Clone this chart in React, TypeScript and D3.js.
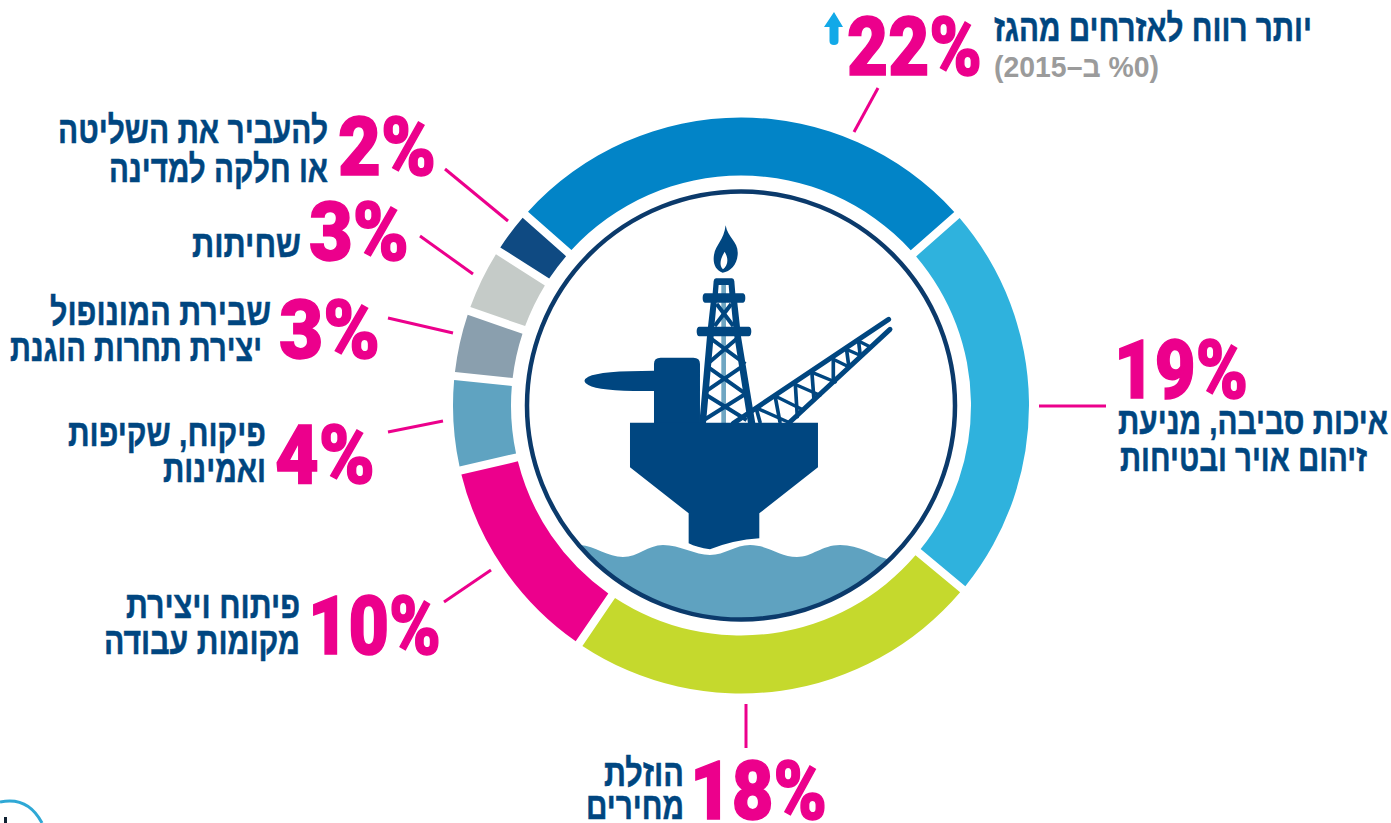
import * as d3 from "d3";

// labels clockwise from the top slice
const pctLabels = ["22%", "19%", "18%", "10%", "4%", "3%", "3%", "2%"];
// the artwork's slices are not quite proportional, so sweeps are read off the picture (degrees)
const sweepDeg = [97, 81, 84.5, 42.7, 18.9, 13.3, 13.3, 9];
const sliceColors = ["#0284c7", "#2fb2dd", "#c5d92d", "#ec008c", "#5fa3c1", "#8a9fae", "#c5cbc8", "#0f4a82"];
const textLines = [
  ["יותר רווח לאזרחים מהגז"],
  ["איכות סביבה, מניעת", "זיהום אויר ובטיחות"],
  ["הוזלת", "מחירים"],
  ["פיתוח ויצירת", "מקומות עבודה"],
  ["פיקוח, שקיפות", "ואמינות"],
  ["שבירת המונופול", "יצירת תחרות הוגנת"],
  ["שחיתות"],
  ["להעביר את השליטה", "או חלקה למדינה"],
];
const subNote = "(2015–ב %0)";

// label layout, same order as above
const pctBox = [
  { x: 847, y: 75, w: 135 },
  { x: 1114, y: 398, w: 134 },
  { x: 690, y: 819, w: 137 },
  { x: 308, y: 654, w: 133 },
  { x: 275, y: 483, w: 100 },
  { x: 279, y: 358, w: 101 },
  { x: 309, y: 260, w: 100 },
  { x: 338, y: 175, w: 98 },
];
const textBox = [
  [{ r: 1312, y: 41, w: 318 }],
  [{ r: 1388, y: 434, w: 270 }, { r: 1367, y: 471, w: 247 }],
  [{ r: 684, y: 786, w: 80 }, { r: 684, y: 819, w: 98 }],
  [{ r: 300, y: 618, w: 174 }, { r: 300, y: 654, w: 196 }],
  [{ r: 266, y: 446, w: 198 }, { r: 266, y: 482, w: 103 }],
  [{ r: 271, y: 325, w: 221 }, { r: 262, y: 361, w: 252 }],
  [{ r: 301, y: 257, w: 109 }],
  [{ r: 328, y: 143, w: 270 }, { r: 328, y: 182, w: 219 }],
];
const leaders = [
  [878, 88, 854, 132],
  [1039, 406, 1106, 406],
  [746, 704, 746, 748],
  [491, 570, 444, 602],
  [443, 421, 388, 432],
  [453, 333, 388, 318],
  [473, 274, 420, 236],
  [508, 221, 445, 169],
];

const W = 1391;
const H = 823;
const cx = 741;
const cy = 405.5;
const outerR = 288;
const innerR = 230;
const ringR = 214;

const pieGen = d3
  .pie<number>()
  .sort(null)
  .startAngle((-48.5 * Math.PI) / 180)
  .endAngle((311.5 * Math.PI) / 180);
const arcGen = d3
  .arc<d3.PieArcDatum<number>>()
  .innerRadius(innerR)
  .outerRadius(outerR)
  .padAngle(0.022);

const navy = "#004680";
const pink = "#ec008c";
const hebrew = "'Liberation Sans', 'DejaVu Sans', sans-serif";

const Rig = () => (
  <g transform="translate(560,210) scale(0.3333)" fill={navy}>
    {/* flame */}
    <path d="M497 46 C503 85 537 95 533 135 C531 165 510 185 488 188 C466 180 458 160 462 135 C467 105 492 90 497 46 Z M494 125 C482 145 476 165 489 178 C505 165 506 145 494 125 Z" fillRule="evenodd" />
    {/* derrick */}
    <rect x="484" y="225" width="14" height="415" fill="#6fa6c2" />
    <path d="M468 205 H516 Q522 205 523 213 L526 250 H548 Q556 250 556 264 Q556 278 548 278 H532 L540 350 H566 Q574 350 574 364 Q574 379 566 379 H543 L586 640 H564 L523 379 H461 L438 640 H418 L441 379 H418 Q410 379 410 364 Q410 350 418 350 H444 L452 278 H436 Q428 278 428 264 Q428 250 436 250 H458 L461 213 Q462 205 468 205 Z M476 225 L474 250 H508 L506 225 Z M470 278 L463 350 H520 L513 278 Z" fillRule="evenodd" />
    <g stroke={navy} strokeWidth="12" fill="none">
      <path d="M470 282 L520 348 M514 282 L464 348" />
      <path d="M452 385 L556 462 M532 385 L442 462" />
      <path d="M442 470 L552 548 M546 470 L432 548" />
      <path d="M434 552 L560 630 M556 552 L422 636" />
    </g>
    {/* crane */}
    <g stroke={navy} fill="none" strokeLinecap="round">
      <path d="M520 640 L986 328" strokeWidth="15" />
      <path d="M690 636 L990 358" strokeWidth="15" />
      <path d="M590 600 L600 636 M646 562 L660 636 M706 522 L712 620 M756 490 L762 570 M820 448 L820 510 M860 420 L866 465 M896 395 L900 430" strokeWidth="11" />
      <path d="M594 596 L684 636 M650 560 L730 600 M708 524 L780 556 M758 488 L826 516 M820 448 L866 470 M864 420 L900 436 M900 395 L930 410" strokeWidth="10" />
    </g>
    {/* cabin and helideck */}
    <path d="M282 640 V543 Q120 545 85 525 Q62 512 85 500 Q120 482 282 482 V462 Q282 443 302 443 H400 Q420 443 420 462 V640 Z" />
    {/* hull */}
    <path d="M210 638 H774 V772 L598 910 V985 Q520 990 450 1018 Q410 1012 386 1000 V910 L210 772 Z" />
  </g>
);

const App = () => {
  const slices = pieGen(sweepDeg);
  return (
    <svg
      width={W}
      height={H}
      viewBox={`0 0 ${W} ${H}`}
      style={{ position: "absolute", left: 0, top: 0, background: "#fff" }}
    >
      <defs>
        <clipPath id="inside">
          <circle cx={cx} cy={cy} r={ringR} />
        </clipPath>
      </defs>

      <g transform={`translate(${cx},${cy})`}>
        {slices.map((s, i) => (
          <path key={i} d={arcGen(s) ?? ""} fill={sliceColors[i]} />
        ))}
      </g>

      {/* sea, clipped by the inner circle */}
      <path
        clipPath="url(#inside)"
        fill="#5fa2c0"
        d="M580 545 C595 546 608 557 623 557 C638 557 648 545 663 545 C680 545 695 555 710 555 C725 555 735 545 750 545 C768 545 780 557 797 557 C812 557 822 545 840 545 C860 545 872 555 887 559 L920 640 H560 Z"
      />
      <Rig />
      <circle cx={cx} cy={cy} r={ringR} fill="none" stroke="#0b3a6b" strokeWidth={4.5} />

      {leaders.map((l, i) => (
        <line key={i} x1={l[0]} y1={l[1]} x2={l[2]} y2={l[3]} stroke={pink} strokeWidth={3} />
      ))}

      {pctLabels.map((t, i) => (
        <text
          key={t + i}
          x={pctBox[i].x}
          y={pctBox[i].y}
          fontFamily="Roboto, 'Liberation Sans', sans-serif"
          fontWeight={900}
          fontSize={82}
          fill={pink}
          stroke={pink}
          strokeWidth={1.5}
          textLength={pctBox[i].w}
          lengthAdjust="spacingAndGlyphs"
        >
          {t}
        </text>
      ))}

      {textLines.map((lines, i) =>
        lines.map((line, j) => (
          <text
            key={`${i}-${j}`}
            x={textBox[i][j].r}
            y={textBox[i][j].y}
            fontFamily={hebrew}
            fontWeight={700}
            fontSize={38}
            fill={navy}
            stroke={navy}
            strokeWidth={0.5}
            textLength={textBox[i][j].w}
            lengthAdjust="spacingAndGlyphs"
            direction="rtl"
          >
            {line}
          </text>
        ))
      )}

      <text
        x={994}
        y={77}
        fontFamily={hebrew}
        fontWeight={700}
        fontSize={30}
        fill="#9b9b9b"
        textLength={165}
        lengthAdjust="spacingAndGlyphs"
        direction="ltr"
        style={{ unicodeBidi: "bidi-override" }}
      >
        {subNote}
      </text>

      {/* small up arrow next to 22% */}
      <path d="M834 12 L843 27 H838.5 V41 Q838.5 45 834 45 Q829.5 45 829.5 41 V27 H824 Z" fill="#12a9e8" />

      {/* cropped logo in the corner */}
      <path d="M0 802 Q28 796 42 823" fill="none" stroke="#2fa8d5" strokeWidth={3} />
      <rect x={4} y={817} width={3} height={6} fill="#123" />
    </svg>
  );
};

export default App;
